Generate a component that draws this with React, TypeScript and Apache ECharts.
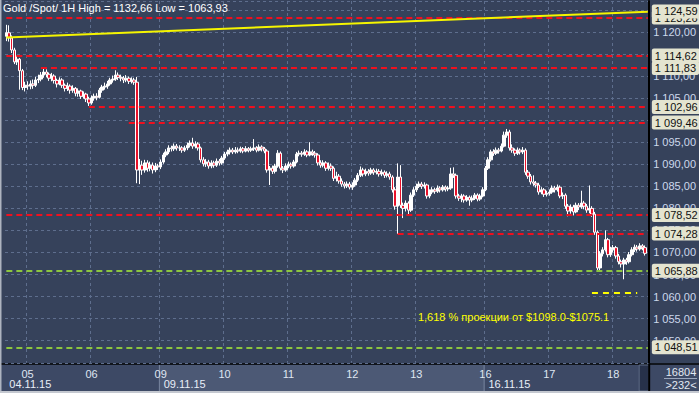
import React, { useEffect, useRef } from 'react';
import * as echarts from 'echarts';

// [date, first hour, number of hourly candles]
const dayBlocks: [string, number, number][] = [
  ['04.11', 16, 8], ['05.11', 0, 24], ['06.11', 0, 24], ['08.11', 22, 2],
  ['09.11', 0, 24], ['10.11', 0, 24], ['11.11', 0, 24], ['12.11', 0, 24], ['13.11', 0, 24],
  ['15.11', 22, 2], ['16.11', 0, 24], ['17.11', 0, 24], ['18.11', 0, 14],
];
const categories: string[] = [];
dayBlocks.forEach(([d, h0, n]) => {
  for (let k = 0; k < n; k++) categories.push(`${d} ${String(h0 + k).padStart(2, '0')}:00`);
});

const weekLabels: Record<string, string> = {
  '04.11 16:00': '04.11.15',
  '09.11 00:00': '09.11.15',
  '16.11 00:00': '16.11.15',
};

// [open, close, low, high]
const ohlc: number[][] = [
  // 04.11
  [1119.0, 1119.8, 1117.9, 1121.6], [1119.8, 1118.6, 1117.8, 1121.5], [1118.6, 1115.9, 1115.2, 1119.2], [1115.9, 1113.2, 1112.7, 1116.4],
  [1113.2, 1113.8, 1112.5, 1114.6], [1113.8, 1111.2, 1106.9, 1114.1], [1111.2, 1107.4, 1106.8, 1111.6], [1107.4, 1107.9, 1106.5, 1108.7],
  // 05.11
  [1107.9, 1107.7, 1106.9, 1108.8], [1107.7, 1108.2, 1107.0, 1109.0], [1108.2, 1107.9, 1107.1, 1109.2], [1107.9, 1109.1, 1107.5, 1109.8],
  [1109.1, 1109.3, 1108.4, 1110.3], [1109.3, 1110.2, 1108.8, 1110.9], [1110.2, 1110.9, 1109.6, 1112.0], [1110.9, 1110.4, 1109.7, 1111.5],
  [1110.4, 1109.5, 1108.9, 1110.8], [1109.5, 1110.0, 1108.8, 1110.7], [1110.0, 1109.0, 1108.3, 1110.4], [1109.0, 1108.2, 1107.4, 1109.4],
  [1108.2, 1109.1, 1107.9, 1109.7], [1109.1, 1107.9, 1107.3, 1109.5], [1107.9, 1107.2, 1106.5, 1108.3], [1107.2, 1107.7, 1106.6, 1108.5],
  [1107.7, 1106.8, 1106.0, 1108.1], [1106.8, 1107.2, 1106.2, 1107.9], [1107.2, 1106.1, 1105.4, 1107.5], [1106.1, 1106.6, 1105.3, 1107.2],
  [1106.6, 1105.4, 1104.8, 1106.9], [1105.4, 1105.9, 1104.9, 1106.5], [1105.9, 1104.8, 1104.1, 1106.2], [1104.8, 1103.9, 1103.2, 1105.3],
  // 06.11
  [1103.9, 1105.0, 1103.5, 1105.6], [1105.0, 1105.4, 1104.4, 1106.0], [1105.4, 1105.2, 1104.5, 1106.1], [1105.2, 1106.8, 1104.9, 1107.3],
  [1106.8, 1107.5, 1106.2, 1108.0], [1107.5, 1107.7, 1106.9, 1108.5], [1107.7, 1108.2, 1107.1, 1108.9], [1108.2, 1109.1, 1107.8, 1109.6],
  [1109.1, 1109.3, 1108.5, 1110.1], [1109.3, 1110.2, 1108.9, 1111.3], [1110.2, 1109.7, 1109.1, 1110.8], [1109.7, 1109.5, 1108.8, 1110.3],
  [1109.5, 1109.1, 1108.4, 1110.0], [1109.1, 1109.5, 1108.6, 1110.2], [1109.5, 1108.8, 1108.2, 1109.9], [1108.8, 1109.1, 1108.3, 1109.7],
  [1109.1, 1108.6, 1108.0, 1109.6], [1108.6, 1088.7, 1085.7, 1109.8], [1088.7, 1089.8, 1085.5, 1091.2], [1089.8, 1088.7, 1087.6, 1090.8],
  [1088.7, 1090.3, 1088.1, 1091.0], [1090.3, 1089.1, 1088.3, 1090.9], [1089.1, 1089.8, 1088.4, 1090.6], [1089.8, 1088.7, 1087.9, 1090.4],
  // 08.11
  [1088.7, 1089.6, 1088.2, 1090.3], [1089.6, 1089.4, 1088.7, 1090.1],
  // 09.11
  [1089.4, 1090.5, 1088.9, 1091.1], [1090.5, 1092.1, 1090.1, 1092.6], [1092.1, 1092.8, 1091.6, 1093.4], [1092.8, 1093.7, 1092.3, 1094.3],
  [1093.7, 1093.5, 1092.9, 1094.2], [1093.5, 1094.1, 1093.0, 1094.7], [1094.1, 1093.7, 1093.1, 1094.6], [1093.7, 1093.7, 1093.0, 1094.3],
  [1093.7, 1093.2, 1092.6, 1094.1], [1093.2, 1093.7, 1092.8, 1094.2], [1093.7, 1094.3, 1093.2, 1094.9], [1094.3, 1094.8, 1093.8, 1095.4],
  [1094.8, 1094.1, 1093.5, 1096.0], [1094.1, 1094.6, 1093.6, 1095.2], [1094.6, 1093.7, 1093.1, 1095.0], [1093.7, 1091.0, 1090.4, 1094.0],
  [1091.0, 1090.1, 1089.5, 1091.6], [1090.1, 1090.5, 1089.4, 1091.2], [1090.5, 1089.6, 1089.0, 1091.0], [1089.6, 1090.3, 1089.1, 1090.9],
  [1090.3, 1089.8, 1089.2, 1090.8], [1089.8, 1090.7, 1089.4, 1091.3], [1090.7, 1090.3, 1089.7, 1091.2], [1090.3, 1091.4, 1089.9, 1091.9],
  // 10.11
  [1091.4, 1092.3, 1091.0, 1092.8], [1092.3, 1092.8, 1091.8, 1093.3], [1092.8, 1093.2, 1092.2, 1093.8], [1093.2, 1092.8, 1092.3, 1093.7],
  [1092.8, 1093.2, 1092.4, 1093.9], [1093.2, 1093.0, 1092.5, 1093.8], [1093.0, 1093.5, 1092.6, 1094.0], [1093.5, 1093.0, 1092.5, 1093.9],
  [1093.0, 1093.5, 1092.7, 1094.1], [1093.5, 1093.2, 1092.7, 1093.9], [1093.2, 1093.5, 1092.8, 1094.0], [1093.5, 1093.7, 1093.0, 1095.7],
  [1093.7, 1093.2, 1092.7, 1094.1], [1093.2, 1093.9, 1092.9, 1094.5], [1093.9, 1093.5, 1092.9, 1094.3], [1093.5, 1093.0, 1092.5, 1093.9],
  [1093.0, 1088.7, 1088.1, 1093.4], [1088.7, 1089.1, 1085.3, 1089.6], [1089.1, 1088.4, 1087.8, 1089.7], [1088.4, 1089.6, 1087.9, 1090.1],
  [1089.6, 1092.5, 1089.2, 1093.2], [1092.5, 1089.1, 1088.6, 1092.9], [1089.1, 1088.7, 1088.0, 1089.6], [1088.7, 1089.6, 1088.3, 1090.2],
  // 11.11
  [1089.6, 1090.0, 1089.1, 1090.6], [1090.0, 1089.6, 1089.0, 1090.4], [1089.6, 1090.5, 1089.2, 1091.0], [1090.5, 1092.3, 1090.2, 1092.8],
  [1092.3, 1092.5, 1091.8, 1093.1], [1092.5, 1092.3, 1091.7, 1093.0], [1092.3, 1092.8, 1091.9, 1093.4], [1092.8, 1092.1, 1091.6, 1093.2],
  [1092.1, 1092.8, 1091.8, 1095.0], [1092.8, 1092.5, 1091.9, 1093.3], [1092.5, 1092.1, 1091.5, 1093.0], [1092.1, 1090.3, 1089.7, 1092.5],
  [1090.3, 1089.8, 1089.2, 1090.9], [1089.8, 1090.3, 1089.3, 1090.9], [1090.3, 1089.1, 1088.5, 1090.7], [1089.1, 1089.6, 1088.6, 1090.4],
  [1089.6, 1089.1, 1088.5, 1090.2], [1089.1, 1086.8, 1086.2, 1089.5], [1086.8, 1087.3, 1086.1, 1088.3], [1087.3, 1086.2, 1085.6, 1087.8],
  [1086.2, 1085.5, 1084.9, 1086.8], [1085.5, 1085.1, 1084.5, 1086.0], [1085.1, 1085.5, 1084.6, 1086.1], [1085.5, 1084.8, 1084.3, 1086.0],
  // 12.11
  [1084.8, 1085.3, 1084.2, 1085.9], [1085.3, 1086.4, 1084.9, 1086.9], [1086.4, 1087.5, 1086.0, 1088.0], [1087.5, 1088.7, 1087.1, 1089.5],
  [1088.7, 1087.8, 1087.2, 1089.2], [1087.8, 1088.4, 1087.3, 1089.0], [1088.4, 1088.0, 1087.4, 1088.9], [1088.0, 1088.7, 1087.6, 1089.2],
  [1088.7, 1088.2, 1087.6, 1089.1], [1088.2, 1088.4, 1087.7, 1089.0], [1088.4, 1087.8, 1087.2, 1088.9], [1087.8, 1088.2, 1087.3, 1088.8],
  [1088.2, 1087.5, 1086.9, 1088.6], [1087.5, 1087.8, 1087.0, 1088.4], [1087.8, 1087.1, 1086.5, 1088.3], [1087.1, 1084.2, 1083.6, 1087.5],
  [1084.2, 1080.5, 1079.7, 1084.8], [1080.5, 1087.1, 1074.2, 1090.2], [1087.1, 1080.7, 1080.1, 1089.8], [1080.7, 1080.0, 1077.8, 1081.3],
  [1080.0, 1081.2, 1079.3, 1081.8], [1081.2, 1079.6, 1078.4, 1081.6], [1079.6, 1083.0, 1079.2, 1083.6], [1083.0, 1084.2, 1082.6, 1084.8],
  // 13.11
  [1084.2, 1085.0, 1083.7, 1085.6], [1085.0, 1085.5, 1084.6, 1086.1], [1085.5, 1085.0, 1084.4, 1086.0], [1085.0, 1085.3, 1084.5, 1085.9],
  [1085.3, 1082.8, 1082.2, 1085.6], [1082.8, 1083.7, 1082.3, 1084.3], [1083.7, 1084.2, 1083.2, 1084.8], [1084.2, 1083.9, 1083.3, 1084.7],
  [1083.9, 1084.6, 1083.5, 1085.2], [1084.6, 1084.2, 1083.6, 1085.0], [1084.2, 1084.8, 1083.8, 1085.3], [1084.8, 1084.4, 1083.8, 1085.2],
  [1084.4, 1084.6, 1083.9, 1085.1], [1084.6, 1087.8, 1084.2, 1089.2], [1087.8, 1087.5, 1086.9, 1089.3], [1087.5, 1082.8, 1082.2, 1087.9],
  [1082.8, 1082.3, 1081.7, 1083.3], [1082.3, 1082.8, 1081.4, 1083.3], [1082.8, 1081.9, 1081.3, 1083.2], [1081.9, 1082.5, 1081.5, 1083.0],
  [1082.5, 1081.9, 1080.6, 1082.9], [1081.9, 1082.3, 1081.4, 1082.9], [1082.3, 1083.0, 1081.9, 1083.5], [1083.0, 1082.1, 1081.6, 1083.4],
  // 15.11
  [1082.1, 1082.8, 1081.7, 1083.3], [1082.8, 1084.2, 1082.5, 1084.8],
  // 16.11
  [1084.2, 1089.1, 1083.9, 1089.6], [1089.1, 1091.0, 1088.7, 1091.6], [1091.0, 1092.8, 1090.6, 1093.3], [1092.8, 1092.5, 1091.9, 1093.4],
  [1092.5, 1093.2, 1092.1, 1093.8], [1093.2, 1093.0, 1092.4, 1093.7], [1093.0, 1094.1, 1092.7, 1094.7], [1094.1, 1096.6, 1093.8, 1097.4],
  [1096.6, 1097.3, 1096.0, 1098.0], [1097.3, 1093.7, 1093.1, 1097.8], [1093.7, 1093.2, 1092.6, 1094.5], [1093.2, 1092.5, 1091.9, 1093.6],
  [1092.5, 1093.2, 1092.1, 1093.8], [1093.2, 1092.8, 1092.2, 1093.6], [1092.8, 1093.2, 1092.3, 1093.9], [1093.2, 1088.2, 1087.6, 1093.6],
  [1088.2, 1087.3, 1086.7, 1088.7], [1087.3, 1086.0, 1085.4, 1087.8], [1086.0, 1085.7, 1085.1, 1087.5], [1085.7, 1085.3, 1084.7, 1086.2],
  [1085.3, 1083.7, 1083.1, 1085.8], [1083.7, 1084.2, 1083.2, 1084.8], [1084.2, 1083.2, 1082.6, 1084.6], [1083.2, 1083.4, 1082.7, 1084.0],
  // 17.11
  [1083.4, 1083.7, 1082.9, 1084.3], [1083.7, 1084.6, 1083.3, 1085.2], [1084.6, 1084.2, 1083.6, 1085.1], [1084.2, 1084.8, 1083.8, 1085.4],
  [1084.8, 1082.8, 1082.3, 1085.2], [1082.8, 1083.0, 1082.1, 1083.6], [1083.0, 1080.5, 1079.9, 1083.4], [1080.5, 1079.4, 1078.2, 1081.0],
  [1079.4, 1080.3, 1078.8, 1080.9], [1080.3, 1079.2, 1078.4, 1080.8], [1079.2, 1080.7, 1078.9, 1081.3], [1080.7, 1080.3, 1079.6, 1081.2],
  [1080.3, 1081.2, 1079.9, 1084.0], [1081.2, 1080.5, 1079.8, 1081.7], [1080.5, 1079.6, 1079.0, 1081.0], [1079.6, 1080.0, 1078.9, 1085.2],
  [1080.0, 1078.7, 1078.1, 1080.5], [1078.7, 1074.6, 1074.0, 1079.2], [1074.6, 1066.5, 1065.7, 1075.0], [1066.5, 1069.7, 1066.0, 1070.3],
  [1069.7, 1070.6, 1069.1, 1071.2], [1070.6, 1072.9, 1070.2, 1075.0], [1072.9, 1069.5, 1068.9, 1073.3], [1069.5, 1070.6, 1069.0, 1071.3],
  // 18.11
  [1070.6, 1071.1, 1070.0, 1071.7], [1071.1, 1069.2, 1068.6, 1071.5], [1069.2, 1067.9, 1067.3, 1069.7], [1067.9, 1067.4, 1066.6, 1068.4],
  [1067.4, 1068.3, 1063.93, 1068.8], [1068.3, 1067.9, 1067.2, 1068.8], [1067.9, 1069.5, 1067.5, 1070.1], [1069.5, 1070.6, 1069.1, 1071.2],
  [1070.6, 1071.2, 1070.1, 1071.8], [1071.2, 1070.8, 1070.2, 1071.7], [1070.8, 1071.5, 1070.4, 1072.1], [1071.5, 1071.1, 1070.5, 1071.9],
  [1071.1, 1069.81, 1069.3, 1071.6],
];

// horizontal levels: value and the hour from which the level is drawn
const redLevels: [number, string][] = [
  [1123.26, '04.11 16:00'], [1114.62, '04.11 16:00'], [1111.83, '05.11 05:00'], [1102.96, '05.11 23:00'],
  [1099.46, '06.11 14:00'], [1078.52, '04.11 16:00'], [1074.28, '12.11 17:00'],
];
const greenLevels: number[] = [1065.88, 1048.51];
const currentPrice = 1069.81;
const projectionLevel: [number, string, string] = [1060.95, '17.11 16:00', '18.11 09:00'];
const trendLine: [string, number, number] = ['04.11 16:00', 1118.7, 1124.59];
const annotation = { text: '1,618 % проекции от $1098.0-$1075.1', at: '18.11 00:00', value: 1055.3 };
const titleText = 'Gold /Spot/ 1H High = 1132,66 Low = 1063,93';
const yMin = 1045, yMax = 1127, yStep = 5;

const fmt = (v: number) => {
  const [i, d] = v.toFixed(2).split('.');
  return i.replace(/\B(?=(\d{3})+(?!\d))/g, ' ') + ',' + d;
};

const lastCat = categories[categories.length - 1];

export default function App() {
  const ref = useRef<HTMLDivElement>(null);
  useEffect(() => {
    if (!ref.current) return;
    const chart = echarts.init(ref.current, undefined, { renderer: 'svg' });
    const tagLabel = (v: number, bg: string) => ({
      show: true, position: 'end', distance: 4, formatter: fmt(v),
      backgroundColor: bg, color: '#101010', fontSize: 11, padding: [2, 3, 1, 3], borderRadius: 2,
    });
    const redStyle = { color: '#f0101e', width: 2, type: [6, 4], opacity: 1 };
    const greenStyle = { color: '#8dc63f', width: 2, type: [6, 4], opacity: 1 };
    const mlData: any[] = [];
    redLevels.forEach(([v, from]) => {
      mlData.push([{ coord: [from, v], value: v, lineStyle: redStyle, label: tagLabel(v, '#e4e4d0') }, { coord: [lastCat, v] }]);
    });
    greenLevels.forEach((v) => {
      mlData.push([{ coord: [categories[0], v], value: v, lineStyle: greenStyle, label: tagLabel(v, '#e4e4d0') }, { coord: [lastCat, v] }]);
    });
    mlData.push([{ coord: [categories[categories.length - 2], currentPrice], value: currentPrice, lineStyle: { opacity: 0 }, label: tagLabel(currentPrice, '#c3ccd8') }, { coord: [lastCat, currentPrice] }]);
    mlData.push([{ coord: [projectionLevel[1], projectionLevel[0]], lineStyle: { color: '#ffff00', width: 2, type: [6, 5] }, label: { show: false } }, { coord: [projectionLevel[2], projectionLevel[0]] }]);
    mlData.push([{ coord: [trendLine[0], trendLine[1]], value: trendLine[2], lineStyle: { color: '#f5f500', width: 2, type: 'solid' }, label: tagLabel(trendLine[2], '#e4e4d0') }, { coord: [lastCat, trendLine[2]] }]);

    const gridLine = { color: '#5e6e8d', type: [3, 3], width: 1 };
    const isDayStart = (_i: number, v: string) => v.endsWith(' 00:00');

    const option: any = {
      animation: false,
      backgroundColor: '#36425b',
      textStyle: { fontFamily: 'Liberation Sans, Arial, sans-serif' },
      title: { text: titleText, left: 3, top: 2, padding: 0, textStyle: { color: '#ffffff', fontSize: 11, fontWeight: 'normal' } },
      grid: { left: 5, right: 43, top: 1, bottom: 30.2 },
      xAxis: [
        {
          type: 'category', data: categories, boundaryGap: true,
          axisLine: { show: false }, axisTick: { show: false },
          axisLabel: { interval: isDayStart, formatter: (v: string) => v.slice(0, 2), color: '#dfe6f2', fontSize: 11, margin: 6 },
          splitLine: { show: true, interval: isDayStart, lineStyle: gridLine },
        },
        {
          type: 'category', data: categories, position: 'bottom', gridIndex: 0,
          axisLine: { show: false }, axisTick: { show: false }, splitLine: { show: false },
          axisLabel: {
            interval: (_i: number, v: string) => v in weekLabels, formatter: (v: string) => weekLabels[v] ?? '',
            align: 'left', padding: [0, 0, 0, 3], color: '#e8eef8', fontSize: 11, margin: 16,
          },
        },
      ],
      yAxis: {
        type: 'value', position: 'right', min: yMin, max: yMax, interval: yStep,
        axisLine: { show: true, lineStyle: { color: '#000000', width: 2 } }, axisTick: { show: false },
        axisLabel: { color: '#cdd8ec', fontSize: 11, margin: 4, formatter: (v: number) => fmt(v), showMinLabel: false, showMaxLabel: false },
        splitLine: { show: true, lineStyle: gridLine },
      },
      series: [{
        type: 'candlestick', data: ohlc, barWidth: 3,
        itemStyle: { color: '#ffffff', color0: '#e8122a', borderColor: '#ffffff', borderColor0: '#ffffff', borderWidth: 1 },
        markLine: { silent: true, symbol: ['none', 'none'], animation: false, data: mlData },
        markPoint: {
          silent: true, symbol: 'circle', symbolSize: 0, animation: false,
          data: [{
            coord: [annotation.at, annotation.value],
            itemStyle: { color: 'transparent' },
            label: { show: true, position: 'left', distance: 4, formatter: annotation.text, color: '#ffff00', fontSize: 11 },
          }],
        },
      }],
    };
    chart.setOption(option);

    const px = (c: string) => chart.convertToPixel({ xAxisIndex: 0 }, c) as number;
    const step = px(categories[1]) - px(categories[0]);
    const b0 = px('09.11 00:00') - step / 2;
    const b1 = px('16.11 00:00') - step / 2;
    const right = px(lastCat) + step / 2;
    chart.setOption({
      graphic: {
        elements: [
          { type: 'rect', z: -1, shape: { x: 0, y: 363, width: 699, height: 2 }, style: { fill: '#11151c' } },
          { type: 'rect', z: -1, shape: { x: 0, y: 365, width: 699, height: 26 }, style: { fill: '#3d4965' } },
          { type: 'rect', z: -1, shape: { x: b0, y: 365, width: b1 - b0, height: 26 }, style: { fill: '#4c5975' } },
          { type: 'line', z: -1, shape: { x1: b0, y1: 365, x2: b0, y2: 391 }, style: { stroke: '#7986a0', lineWidth: 1 } },
          { type: 'line', z: -1, shape: { x1: b1, y1: 365, x2: b1, y2: 391 }, style: { stroke: '#7986a0', lineWidth: 1 } },
          { type: 'rect', z: -1, shape: { x: right - 10, y: 365, width: 10, height: 26 }, style: { fill: '#27314a', stroke: '#5d6a85', lineWidth: 1 } },
          { type: 'rect', z: -1, shape: { x: right - 1, y: 363, width: 2, height: 30 }, style: { fill: '#000000' } },
          { type: 'text', z: -1, style: { text: '16804', x: 681, y: 372, fill: '#e2e8f2', font: '11px Liberation Sans, Arial, sans-serif', textAlign: 'center', textVerticalAlign: 'middle' } },
          { type: 'line', z: -1, shape: { x1: 664, y1: 378.5, x2: 697, y2: 378.5 }, style: { stroke: '#9aa6bc', lineWidth: 1 } },
          { type: 'text', z: -1, style: { text: '>232<', x: 681, y: 385, fill: '#e2e8f2', font: '11px Liberation Sans, Arial, sans-serif', textAlign: 'center', textVerticalAlign: 'middle' } },
          { type: 'rect', z: 100, shape: { x: 0, y: 0, width: 1.5, height: 393 }, style: { fill: '#aeb4c0' } },
          { type: 'rect', z: 100, shape: { x: 0, y: 391, width: 699, height: 2 }, style: { fill: '#c4c8d0' } },
        ],
      },
    });
    return () => chart.dispose();
  }, []);
  return <div ref={ref} style={{ position: 'fixed', left: 0, top: 0, width: 699, height: 393 }} />;
}
